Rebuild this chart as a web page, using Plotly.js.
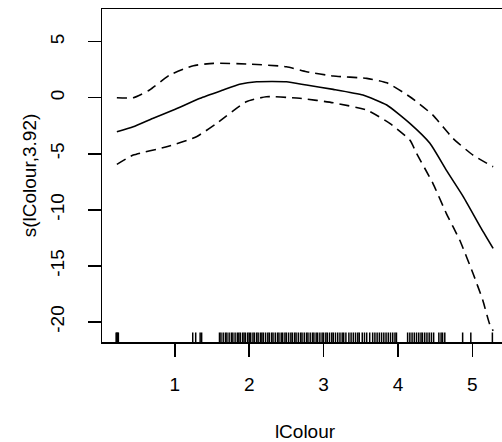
<!DOCTYPE html>
<html>
<head>
<meta charset="utf-8">
<script src="https://cdn.plot.ly/plotly-3.0.1.min.js"></script>
<style>
html,body{margin:0;padding:0;overflow:hidden;background:#fff;width:502px;height:442px;}
#chart{width:520px;height:442px;}
</style>
</head>
<body>
<div id="chart"></div>
<script>
// Smooth fit s(lColour, 3.92)
var fitX = [0.22, 0.44, 0.70, 0.98, 1.34, 1.65, 1.87, 2.10, 2.50, 2.77, 3.13, 3.53, 3.85, 4.16, 4.43, 4.65, 4.88, 5.12, 5.28];
var fitY = [-3.04, -2.59, -1.85, -1.10, -0.05, 0.69, 1.20, 1.43, 1.43, 1.13, 0.75, 0.24, -0.65, -2.29, -4.07, -6.46, -8.84, -11.66, -13.45];

// Upper confidence band
var upX = [0.22, 0.44, 0.66, 0.93, 1.25, 1.52, 2.01, 2.50, 2.77, 3.13, 3.58, 3.85, 4.16, 4.47, 4.74, 5.01, 5.28];
var upY = [0.00, 0.00, 0.69, 2.03, 2.86, 3.07, 3.00, 2.77, 2.32, 1.94, 1.73, 1.34, 0.09, -1.55, -3.63, -5.12, -6.16];

// Lower confidence band
var loX = [0.22, 0.44, 0.89, 1.29, 1.56, 1.96, 2.23, 2.68, 3.13, 3.58, 3.89, 4.16, 4.25, 4.47, 4.65, 4.83, 5.01, 5.14, 5.23, 5.28];
var loY = [-5.95, -5.12, -4.38, -3.48, -2.29, -0.36, 0.09, -0.05, -0.45, -1.10, -2.29, -3.78, -4.96, -7.64, -10.32, -12.70, -15.68, -18.06, -20.14, -20.80];

// Rug of observed lColour values
var rugValues = [0.21, 0.22, 0.23, 0.24, 1.24, 1.28, 1.34, 1.36,
  1.60,1.62,1.65,1.68,1.70,1.73,1.76,1.78,1.81,1.84,1.86,1.88,1.91,1.93,1.95,1.98,
  2.00,2.02,2.05,2.07,2.10,2.12,2.15,2.17,2.19,2.22,2.25,2.27,2.30,2.32,2.35,2.38,
  2.40,2.43,2.45,2.48,2.50,2.53,2.56,2.58,2.61,2.63,2.66,2.69,2.71,2.74,2.77,2.79,
  2.82,2.85,2.87,2.90,2.92,2.95,2.98,3.00,3.03,3.05,3.08,3.11,3.13,3.16,3.19,3.22,
  3.25,3.27,3.30,3.34,3.37,3.40,3.43,3.46,3.48,3.52,3.55,3.58,3.62,3.66,3.69,3.72,
  3.75,3.78,3.81,3.84,3.87,3.90,3.93,3.96,3.98,
  4.13,4.16,4.19,4.22,4.25,4.28,4.31,4.33,4.36,4.39,4.42,4.45,4.48,4.55,4.58,4.60,4.63,
  4.87,4.98,5.27];

var xTicks = [1, 2, 3, 4, 5];
var yTicks = [-20, -15, -10, -5, 0, 5];

var xRange = [0.02, 5.48];
var yRange = [-21.8, 7.92];
var rugLen = 0.85;

var rugX = [], rugY = [];
rugValues.forEach(function (v) {
  rugX.push(v, v, null);
  rugY.push(yRange[0], yRange[0] + rugLen, null);
});

var font = {family: '"Liberation Sans", Arial, Helvetica, sans-serif', size: 19, color: '#000'};

var traces = [
  {x: rugX, y: rugY, mode: 'lines', line: {color: '#000', width: 1.5}, hoverinfo: 'skip', showlegend: false},
  {x: upX, y: upY, mode: 'lines', line: {color: '#000', width: 1.6, dash: '10px,6px', shape: 'spline', smoothing: 0.5}, showlegend: false},
  {x: loX, y: loY, mode: 'lines', line: {color: '#000', width: 1.6, dash: '10px,6px', shape: 'spline', smoothing: 0.5}, showlegend: false},
  {x: fitX, y: fitY, mode: 'lines', line: {color: '#000', width: 1.6, shape: 'spline', smoothing: 0.5}, showlegend: false}
];

var layout = {
  width: 520, height: 442,
  margin: {l: 102, r: 12, t: 9, b: 100},
  paper_bgcolor: '#fff', plot_bgcolor: '#fff',
  font: font,
  showlegend: false,
  xaxis: {
    range: xRange, tickmode: 'array', tickvals: xTicks, ticktext: xTicks.map(String),
    showgrid: false, zeroline: false, showline: true, mirror: true, linecolor: '#000', linewidth: 1.5,
    ticks: 'outside', ticklen: 13, tickwidth: 1.5, tickcolor: '#000', ticklabelstandoff: 12,
    tickfont: font, automargin: false,
    title: {text: 'lColour', font: font, standoff: 30}
  },
  yaxis: {
    range: yRange, tickmode: 'array', tickvals: yTicks, ticktext: yTicks.map(String),
    showgrid: false, zeroline: false, showline: true, mirror: true, linecolor: '#000', linewidth: 1.5,
    ticks: 'outside', ticklen: 13, tickwidth: 1.5, tickcolor: '#000', ticklabelstandoff: 16,
    tickangle: -90, tickfont: font, automargin: false,
    title: {text: 's(lColour,3.92)', font: font, standoff: 5}
  }
};

Plotly.newPlot('chart', traces, layout, {staticPlot: true, displayModeBar: false});
</script>
</body>
</html>
